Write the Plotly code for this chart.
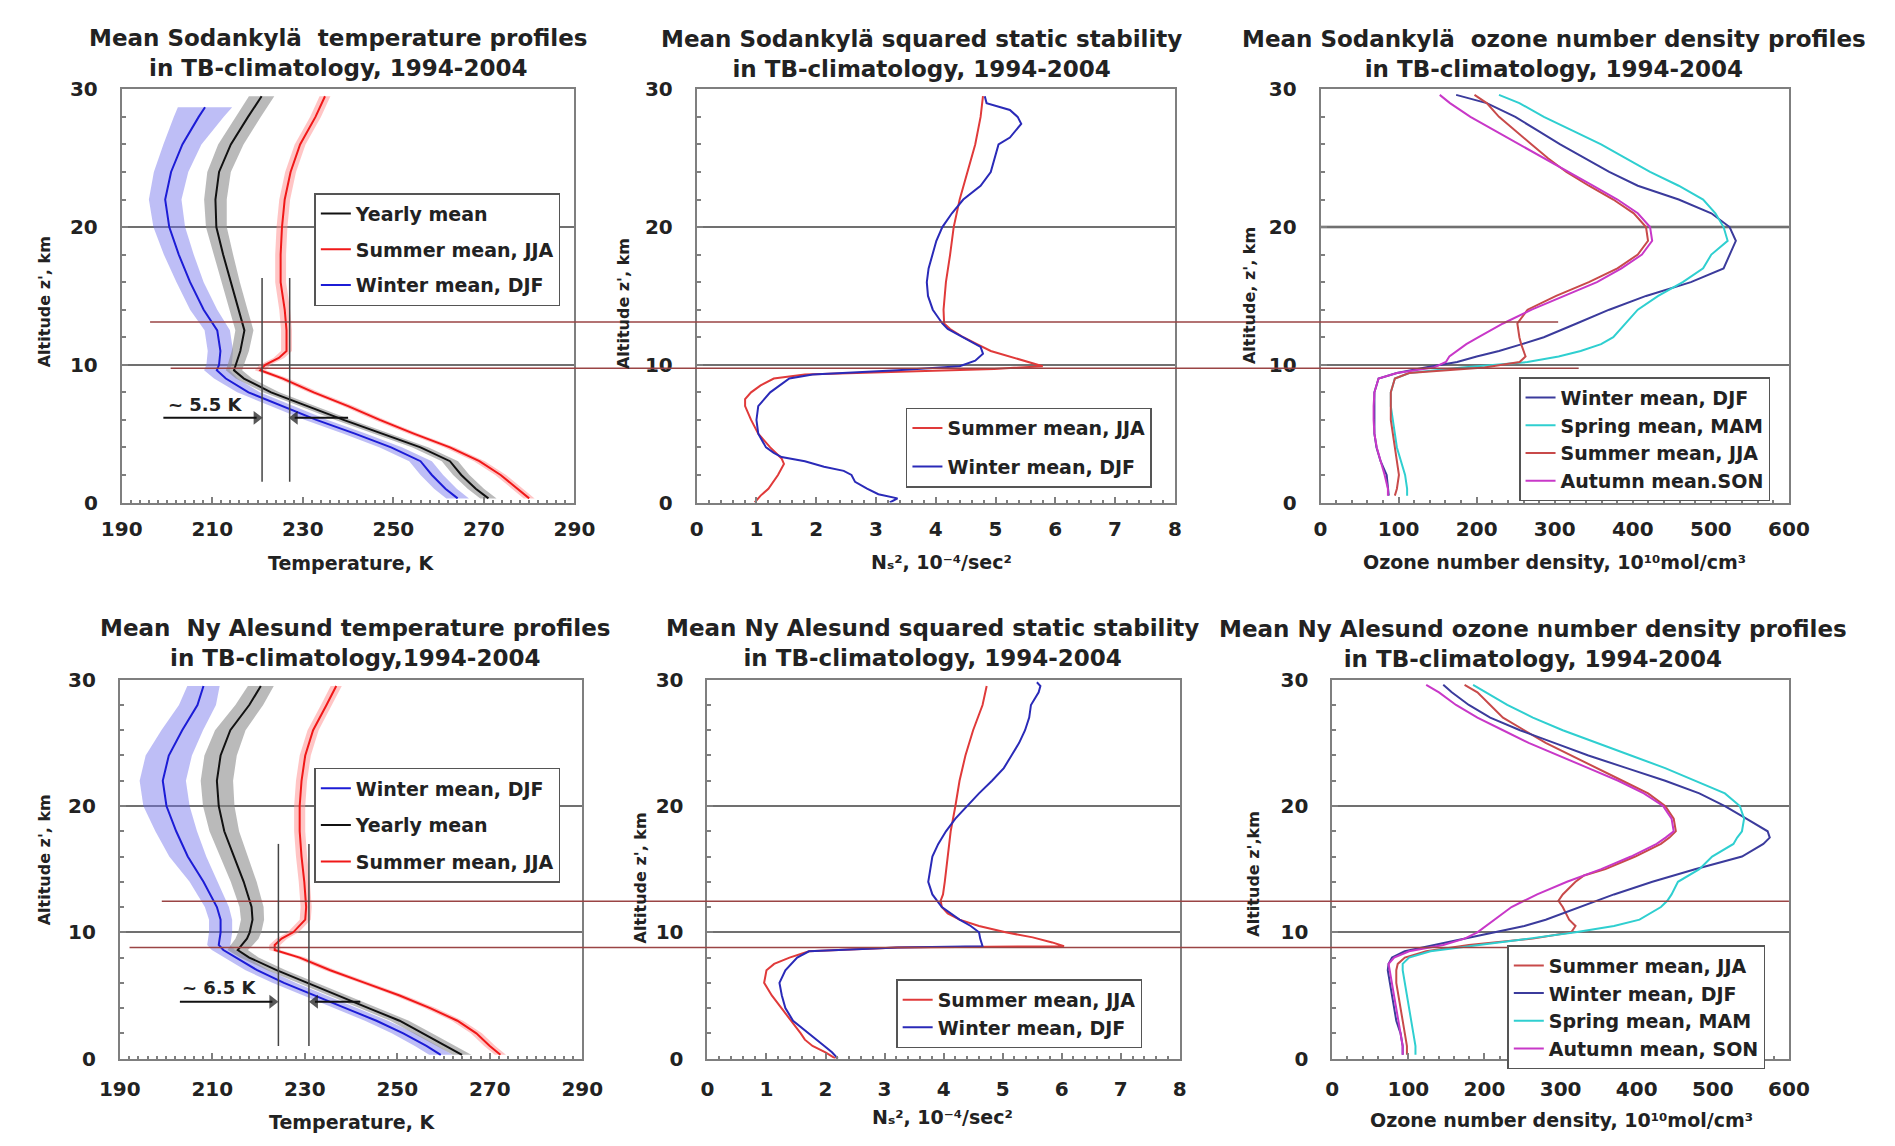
import plotly.graph_objects as go

FONT = "DejaVu Sans"
W, H = 1895, 1146

# ---------------- DATA ----------------
# Panel 1: Sodankyla temperature (K) vs altitude (km)
sod_t_alt = [0.3, 1, 2, 3, 4, 5, 6, 7, 8, 9, 9.6, 10, 10.5, 11, 12.5, 14, 16, 18, 20, 22, 24, 26, 28, 29.5]
sod_t_alt_winter = [0.3, 1, 2, 3, 4, 5, 6, 7, 8, 9, 9.6, 10, 10.5, 11, 12.5, 14, 16, 18, 20, 22, 24, 26, 28, 28.7]
sod_t_winter = [264.2, 261.5, 258.5, 256, 249.5, 241.5, 233, 225.6, 218, 213, 211, 211.5,
                211.6, 211.8, 211.1, 208.1, 205.1, 202.6, 200.5, 199.6, 200.9, 203.4, 207, 208.4]
sod_t_winter_sd = [2.5, 2.5, 2.5, 2.5, 2.5, 2.5, 2.5, 2.5, 2.5, 2.6, 2.8, 2.8,
                   2.8, 2.8, 2.8, 3.0, 3.0, 3.3, 3.5, 3.6, 3.8, 4.2, 5.5, 6.0]
sod_t_yearly = [271, 268.2, 265, 262.5, 256, 247.5, 239, 231, 223, 217, 214.8, 215.2,
                215.7, 216.2, 217.1, 215.8, 214.1, 212.4, 210.9, 210.7, 211.5, 214.1, 217.9, 220.9]
sod_t_yearly_sd = [1.8, 1.8, 1.8, 1.8, 1.8, 1.8, 1.8, 1.8, 1.8, 1.8, 1.8, 1.8,
                   1.8, 1.9, 2.0, 2.0, 2.0, 2.2, 2.3, 2.5, 2.6, 2.8, 2.8, 2.8]
sod_t_summer = [280, 277.5, 273.7, 269, 262.5, 254.5, 247, 240, 232.4, 225.6, 220.6, 221.7,
                224.7, 226.4, 226.4, 226, 225.1, 225.1, 225.4, 226, 227.3, 229.4, 232.8, 234.9]
sod_t_summer_sd = [1.2, 1.2, 1.2, 1.2, 1.2, 1.2, 1.2, 1.2, 1.2, 1.2, 1.2, 1.2,
                   1.2, 1.2, 1.2, 1.2, 1.2, 1.2, 1.2, 1.2, 1.2, 1.2, 1.2, 1.2]

# Panel 4: Ny Alesund temperature
ny_t_alt = [0.3, 1, 2, 3, 4, 5, 6, 7, 8, 8.6, 9, 9.5, 10, 11, 12, 14, 16, 18, 20, 22, 24, 26, 28, 29.5]
ny_t_winter = [259.4, 256.3, 251.3, 245.5, 238.8, 232.2, 225.5, 219.7, 215.1, 212.4, 211.4, 211.6,
               211.8, 211.8, 211, 208.1, 204.7, 202.2, 200.1, 199.3, 200.6, 203.5, 206.8, 208.1]
ny_t_winter_sd = [2.5, 2.5, 2.5, 2.5, 2.5, 2.5, 2.5, 2.5, 2.5, 2.5, 2.5, 2.5,
                  2.5, 2.5, 2.6, 3.0, 4.0, 4.5, 5.0, 5.0, 5.0, 4.5, 4.0, 3.5]
ny_t_yearly = [264, 260.5, 255.5, 250.5, 243.8, 237.2, 230.5, 223.9, 218, 215.5, 216.4, 217.5,
               218.1, 218.7, 218.5, 216.8, 214.7, 212.6, 211.4, 211, 211.8, 213.9, 218, 220.5]
ny_t_yearly_sd = [2.0, 2.0, 2.0, 2.0, 2.0, 2.0, 2.0, 2.0, 2.0, 2.2, 2.4, 2.5,
                  2.5, 2.5, 2.6, 2.8, 3.0, 3.2, 3.4, 3.5, 3.5, 3.3, 3.0, 2.8]
ny_t_summer = [272.3, 270, 267.1, 263, 257.1, 250.5, 243, 235.5, 228.9, 223.5, 223.5, 225,
               227.5, 230.1, 230.3, 229.9, 229.3, 228.9, 228.9, 229.3, 230.1, 231.8, 234.7, 236.8]
ny_t_summer_sd = [1.2, 1.2, 1.2, 1.2, 1.2, 1.2, 1.2, 1.2, 1.2, 1.2, 1.2, 1.2,
                  1.2, 1.2, 1.2, 1.2, 1.2, 1.2, 1.2, 1.2, 1.2, 1.2, 1.2, 1.2]

# Panel 2: Sodankyla squared static stability (1e-4 / s^2)
sod_n2_alt_summer = [0, 0.5, 1, 2, 2.8, 3.2, 4, 5, 6, 7, 7.5, 8, 8.5, 9, 9.3, 9.5, 9.7, 9.9,
                     10.2, 10.6, 11, 11.5, 12, 12.6, 13, 14, 16, 18, 20, 22, 24, 26, 28, 29.5]
sod_n2_summer = [0.97, 1.07, 1.2, 1.36, 1.46, 1.42, 1.23, 1.03, 0.91, 0.81, 0.81, 0.91, 1.07, 1.29, 1.81, 3.36, 4.98, 5.79,
                 5.56, 5.24, 4.92, 4.69, 4.46, 4.24, 4.14, 4.13, 4.17, 4.24, 4.3, 4.4, 4.53, 4.66, 4.75, 4.79]
sod_n2_alt_winter = [0, 0.3, 0.6, 1, 1.5, 2, 2.3, 2.6, 3, 3.3, 3.6, 4, 5, 6, 7, 8, 9, 9.3,
                     9.6, 9.9, 10.3, 10.8, 11.3, 12, 12.6, 13, 14, 15, 16, 17, 18, 19, 20, 21, 22, 23,
                     24, 25, 26, 26.5, 27.5, 28, 28.5, 29, 29.5]
sod_n2_winter = [3.23, 3.36, 3.04, 2.85, 2.65, 2.59, 2.46, 2.13, 1.81, 1.42, 1.29, 1.16, 1.03, 1.0, 1.03, 1.23, 1.55, 1.94,
                 3.36, 4.40, 4.66, 4.79, 4.75, 4.46, 4.2, 4.11, 3.95, 3.87, 3.85, 3.88, 3.95, 4.01, 4.11, 4.27, 4.46, 4.75,
                 4.92, 4.98, 5.05, 5.24, 5.43, 5.37, 5.24, 4.85, 4.82]

# Panel 5: Ny Alesund squared static stability
ny_n2_alt_summer = [0, 0.5, 1, 1.5, 2, 3, 4, 5, 6, 7, 7.5, 8, 8.5, 8.8, 8.9, 9.2, 9.6, 10,
                    10.5, 11, 11.5, 12, 12.5, 13, 14, 16, 18, 20, 22, 24, 26, 28, 29.5]
ny_n2_summer = [2.17, 2.0, 1.78, 1.65, 1.58, 1.42, 1.26, 1.09, 0.96, 1.0, 1.13, 1.39, 1.72, 3.22, 6.04, 5.84, 5.51, 5.05,
                4.6, 4.27, 4.07, 3.97, 3.95, 3.99, 4.02, 4.07, 4.12, 4.2, 4.27, 4.37, 4.5, 4.66, 4.73]
ny_n2_alt_winter = [0, 0.5, 1, 2, 3, 4, 5, 6, 7, 8, 8.5, 8.8, 8.9, 9.5, 10, 10.5, 11, 12,
                    13, 14, 15, 16, 17, 18, 19, 20, 21, 22, 23, 24, 25, 26, 27, 28, 29, 29.5, 29.8]
ny_n2_winter = [2.21, 2.11, 1.98, 1.72, 1.45, 1.32, 1.26, 1.22, 1.32, 1.52, 1.72, 3.22, 4.66, 4.62, 4.6, 4.46, 4.27, 3.97,
                3.81, 3.74, 3.78, 3.81, 3.91, 4.04, 4.2, 4.4, 4.6, 4.82, 5.02, 5.15, 5.28, 5.38, 5.45, 5.48, 5.61, 5.64, 5.58]

# Panel 3: Sodankyla ozone number density (1e10 mol/cm^3)
sod_o3_alt = [0.5, 1, 2, 3, 4, 5, 6, 7, 8, 9, 9.4, 9.8, 10.2, 10.6, 11, 11.5, 12, 13,
              14, 15, 16, 17, 18, 19, 20, 21, 22, 23, 24, 25, 26, 27, 28, 29, 29.6]
sod_o3_winter = [87.4, 86.3, 84.7, 76.9, 71.7, 69, 69, 69, 69, 74.3, 97.8, 134, 175, 200, 228.6, 258, 286, 328,
                 369.8, 417, 474.4, 516.3, 524, 532, 524, 500.6, 458.8, 406.4, 369.8, 338.4, 307, 278.3, 249.5, 212.9, 173.7]
sod_o3_spring = [110.9, 110.9, 108.3, 103, 97.8, 95.2, 92.6, 90, 90, 95.2, 113.5, 181.5, 265, 305, 333.2, 359.4, 375, 390.7,
                 406.4, 432.6, 464, 490.1, 500.6, 521.5, 516.3, 505.8, 490.1, 458.8, 422.1, 390.7, 359.4, 322.8, 286.1, 254.7, 228.6]
sod_o3_summer = [95.2, 97.8, 100.4, 97.8, 95.2, 92.6, 90, 90, 90, 95.2, 113.5, 210, 255, 262.6, 260, 257, 254.7, 252.1,
                 265.2, 301.8, 343.7, 380.3, 406.4, 419.5, 416.9, 401.2, 375, 343.7, 314.9, 291.4, 270.4, 249.5, 228.6, 212.9, 197.2]
sod_o3_autumn = [86.3, 86.3, 82.1, 76.9, 72, 69, 68, 68, 69, 74.3, 97.8, 144.9, 160.6, 165, 175, 186.7, 202.4, 233.8,
                 270.4, 312.3, 354.1, 385.5, 411.7, 424.8, 422.1, 406.4, 380.3, 348.9, 317.5, 286.1, 254.7, 223.4, 192, 165.8, 152.7]

# Panel 6: Ny Alesund ozone number density
ny_o3_alt = [0.3, 1, 2, 3, 4, 5, 6, 7, 7.5, 8, 8.5, 9, 9.5, 10, 10.5, 11, 12, 12.5,
             13, 14, 14.5, 15, 16, 17, 17.5, 18, 19, 20, 21, 22, 23, 24, 25, 26, 27, 28, 29, 29.6]
ny_o3_winter = [92.5, 92.5, 89.7, 84.1, 81.3, 78.5, 75.7, 72.9, 74, 78.5, 95.3, 134.6, 173.8, 213.1, 252.3, 280.4, 325.2, 347,
                370.1, 420.6, 448, 476.6, 538.3, 566.4, 574.8, 572, 544, 515.9, 482.3, 437.4, 386.9, 336.5, 291.6, 246.7, 207.5, 179.4, 157, 145.8]
ny_o3_spring = [109.3, 109.3, 106.5, 103.7, 100.9, 98.1, 95.3, 92.5, 92.5, 100.9, 129, 196.3, 258, 319.6, 370.1, 403.7, 431.8, 440.2,
                445.8, 454.2, 468, 482.3, 499.1, 527.1, 532, 538.3, 541.1, 535.5, 515.9, 476.6, 437.4, 392.5, 347.7, 302.8, 263.6, 229.9, 201.9, 185]
ny_o3_summer = [98.1, 98.1, 95.3, 92.5, 89.7, 87, 84.1, 84.1, 86, 95.3, 123.4, 179.4, 263.6, 314, 319.6, 311.2, 302.8, 297.2,
                302.8, 319.6, 330.8, 358.9, 398.1, 431.8, 443, 451.4, 448.6, 437.4, 415, 381.3, 347.7, 314, 280.4, 252.3, 224.3, 207.5, 190.7, 173.8]
ny_o3_autumn = [92.5, 92.5, 89.7, 86.9, 84, 81.3, 78.5, 75.7, 74, 81.3, 100.9, 145.8, 173.8, 190.7, 201.9, 213.1, 235.5, 252,
                269.2, 308.4, 330, 353.3, 392.5, 426.2, 438, 448.6, 445.8, 434.6, 409.4, 375.7, 336.5, 297.2, 258, 224.3, 190.7, 162.6, 140.2, 123.4]

# tropopause marker altitudes (km) and temperature-difference guides (K)
top_marker_alts = [13.1, 9.75]
bottom_marker_alts = [12.45, 8.8]
sod_guide_temps = [221.0, 227.1]
ny_guide_temps = [224.3, 230.9]
# arrows: (tail T, head T) at a given altitude
sod_arrows = [(199.2, 219.8), (240.0, 228.2)]
sod_arrow_alt = 6.15
ny_arrows = [(203.0, 223.0), (242.0, 232.2)]
ny_arrow_alt = 4.5

# ---------------- STYLE / LAYOUT ----------------
C_WIN_T, C_WIN_BAND = "#1c1cd6", "rgba(110,110,235,0.45)"
C_YR_T, C_YR_BAND = "#111111", "rgba(140,140,140,0.6)"
C_SUM_T, C_SUM_BAND = "#f01818", "rgba(255,140,140,0.5)"
C_N2_SUM, C_N2_WIN = "#e03a3a", "#2a2ab8"
C_O3_WIN, C_O3_SPR, C_O3_SUM, C_O3_AUT = "#3b3b9c", "#2fcfd0", "#c84a4a", "#c838c8"
GRID = "#707070"
FRAME = "#7f7f7f"

# panel frames in pixels: left, right, top, bottom
PANELS = {
    1: (103, 566, 79, 501),
    2: (691, 1180, 79, 501),
    3: (1329, 1808, 79, 501),
    4: (101, 574, 682, 1069),
    5: (702, 1185, 682, 1069),
    6: (1341, 1808, 682, 1069),
}
XRANGES = {1: (190, 290, 20, 2), 2: (0, 8, 1, 0.2), 3: (0, 600, 100, 20),
           4: (190, 290, 20, 2), 5: (0, 8, 1, 0.2), 6: (0, 600, 100, 20)}


def px(v):
    return v / W


def py(v):
    return 1 - v / H


fig = go.Figure()


def ax_names(p):
    return ("x" if p == 1 else f"x{p}"), ("y" if p == 1 else f"y{p}")


def add_line(p, xs, zs, color, name, legend, show=True, width=2):
    xa, ya = ax_names(p)
    fig.add_trace(go.Scatter(x=xs, y=zs, mode="lines", line=dict(color=color, width=width),
                             name=name, legend=legend, legendgroup=f"{legend}-{name}",
                             showlegend=show, xaxis=xa, yaxis=ya, hoverinfo="skip"))


def add_band(p, xs, sd, zs, color):
    xa, ya = ax_names(p)
    lo = [m - s for m, s in zip(xs, sd)]
    hi = [m + s for m, s in zip(xs, sd)]
    fig.add_trace(go.Scatter(x=lo + hi[::-1], y=list(zs) + list(zs)[::-1], mode="lines",
                             fill="toself", fillcolor=color, line=dict(width=0),
                             showlegend=False, xaxis=xa, yaxis=ya, hoverinfo="skip"))


def add_arrow(p, tail, head, z):
    xa, ya = ax_names(p)
    sym = "triangle-right" if head > tail else "triangle-left"
    fig.add_trace(go.Scatter(x=[tail, head], y=[z, z], mode="lines+markers",
                             line=dict(color="#111111", width=2),
                             marker=dict(symbol=["line-ns", sym], size=[1, 12], color="#111111",
                                         line=dict(width=0)),
                             showlegend=False, xaxis=xa, yaxis=ya, hoverinfo="skip"))


# Panel 1 bands + lines
add_band(1, sod_t_winter, sod_t_winter_sd, sod_t_alt_winter, C_WIN_BAND)
add_band(1, sod_t_yearly, sod_t_yearly_sd, sod_t_alt, C_YR_BAND)
add_band(1, sod_t_summer, sod_t_summer_sd, sod_t_alt, C_SUM_BAND)
add_line(1, sod_t_yearly, sod_t_alt, C_YR_T, "Yearly mean", "legend")
add_line(1, sod_t_summer, sod_t_alt, C_SUM_T, "Summer mean, JJA", "legend")
add_line(1, sod_t_winter, sod_t_alt_winter, C_WIN_T, "Winter mean, DJF", "legend")
for tail, head in sod_arrows:
    add_arrow(1, tail, head, sod_arrow_alt)

# Panel 2
add_line(2, sod_n2_summer, sod_n2_alt_summer, C_N2_SUM, "Summer mean, JJA", "legend2")
add_line(2, sod_n2_winter, sod_n2_alt_winter, C_N2_WIN, "Winter mean, DJF", "legend2")

# Panel 3
add_line(3, sod_o3_winter, sod_o3_alt, C_O3_WIN, "Winter mean, DJF", "legend3")
add_line(3, sod_o3_spring, sod_o3_alt, C_O3_SPR, "Spring mean, MAM", "legend3")
add_line(3, sod_o3_summer, sod_o3_alt, C_O3_SUM, "Summer mean, JJA", "legend3")
add_line(3, sod_o3_autumn, sod_o3_alt, C_O3_AUT, "Autumn mean.SON", "legend3")

# Panel 4
add_band(4, ny_t_winter, ny_t_winter_sd, ny_t_alt, C_WIN_BAND)
add_band(4, ny_t_yearly, ny_t_yearly_sd, ny_t_alt, C_YR_BAND)
add_band(4, ny_t_summer, ny_t_summer_sd, ny_t_alt, C_SUM_BAND)
add_line(4, ny_t_winter, ny_t_alt, C_WIN_T, "Winter mean, DJF", "legend4")
add_line(4, ny_t_yearly, ny_t_alt, C_YR_T, "Yearly mean", "legend4")
add_line(4, ny_t_summer, ny_t_alt, C_SUM_T, "Summer mean, JJA", "legend4")
for tail, head in ny_arrows:
    add_arrow(4, tail, head, ny_arrow_alt)

# Panel 5
add_line(5, ny_n2_summer, ny_n2_alt_summer, C_N2_SUM, "Summer mean, JJA", "legend5")
add_line(5, ny_n2_winter, ny_n2_alt_winter, C_N2_WIN, "Winter mean, DJF", "legend5")

# Panel 6
add_line(6, ny_o3_summer, ny_o3_alt, C_O3_SUM, "Summer mean, JJA", "legend6")
add_line(6, ny_o3_winter, ny_o3_alt, C_O3_WIN, "Winter mean, DJF", "legend6")
add_line(6, ny_o3_spring, ny_o3_alt, C_O3_SPR, "Spring mean, MAM", "legend6")
add_line(6, ny_o3_autumn, ny_o3_alt, C_O3_AUT, "Autumn mean, SON", "legend6")

tickfont = dict(family=FONT, size=20, color="#222222", weight="bold")
layout = dict(width=W, height=H, margin=dict(l=0, r=0, t=0, b=0),
              paper_bgcolor="white", plot_bgcolor="white",
              font=dict(family=FONT, color="#222222"), showlegend=True)

for p, (l, r, t, b) in PANELS.items():
    xk = "xaxis" if p == 1 else f"xaxis{p}"
    yk = "yaxis" if p == 1 else f"yaxis{p}"
    x0, x1, dt, mdt = XRANGES[p]
    top_row = p <= 3
    layout[xk] = dict(domain=[px(l), px(r)], range=[x0, x1], dtick=dt, tick0=x0,
                      anchor="y" if p == 1 else f"y{p}",
                      showline=True, linecolor=FRAME, linewidth=2, mirror=True,
                      ticks="inside", ticklen=6, tickcolor=FRAME, tickwidth=1.5,
                      minor=dict(dtick=mdt, ticks="inside", ticklen=3, tickcolor=FRAME, showgrid=False),
                      showgrid=False, zeroline=False, tickfont=tickfont,
                      ticklabelstandoff=7 if top_row else 11, fixedrange=True)
    layout[yk] = dict(domain=[py(b), py(t)], range=[0, 30], dtick=10, tick0=0,
                      anchor="x" if p == 1 else f"x{p}",
                      showline=True, linecolor=FRAME, linewidth=2, mirror=True,
                      ticks="inside", ticklen=6, tickcolor=FRAME, tickwidth=1.5,
                      minor=dict(dtick=2, ticks="inside", ticklen=4, tickcolor=FRAME, showgrid=False),
                      showgrid=True, gridcolor=GRID, gridwidth=1.5, zeroline=False,
                      tickfont=tickfont, ticksuffix="\u2007\u2009", fixedrange=True)

# legends (left, top px, item gap)
LEGENDS = {"legend": (300, 185, 8), "legend2": (905, 404, 11), "legend3": (1532, 373, 0),
           "legend4": (300, 772, 9), "legend5": (895, 988, 0), "legend6": (1520, 953, 0)}
for key, (l, t, gap) in LEGENDS.items():
    layout[key] = dict(x=px(l), y=py(t), xanchor="left", yanchor="top", bgcolor="white",
                       bordercolor="#555555", borderwidth=1.5, itemwidth=30,
                       font=dict(family=FONT, size=19, color="#222222", weight="bold"),
                       traceorder="grouped", tracegroupgap=gap)

fig.update_layout(**layout)

# cross-panel tropopause markers
TOP_SPANS = [(132, 1572), (153, 1593)]
BOT_SPANS = [(144, 1808), (111, 1551)]
shapes = []
for z, (a, b) in zip(top_marker_alts, TOP_SPANS):
    shapes.append(dict(type="line", xref="paper", yref="y", x0=px(a), x1=px(b), y0=z, y1=z,
                       line=dict(color="#9a4444", width=1.5), layer="above"))
for z, (a, b) in zip(bottom_marker_alts, BOT_SPANS):
    shapes.append(dict(type="line", xref="paper", yref="y4", x0=px(a), x1=px(b), y0=z, y1=z,
                       line=dict(color="#9a4444", width=1.5), layer="above"))
for tv in sod_guide_temps:
    shapes.append(dict(type="line", xref="x", yref="y", x0=tv, x1=tv, y0=1.5, y1=16.3,
                       line=dict(color="#444444", width=1.5)))
for tv in ny_guide_temps:
    shapes.append(dict(type="line", xref="x4", yref="y4", x0=tv, x1=tv, y0=1.0, y1=17.0,
                       line=dict(color="#444444", width=1.5)))
shapes.append(dict(type="line", xref="x3", yref="y3", x0=0, x1=600, y0=20, y1=20,
                   line=dict(color="#a8a8a8", width=3), layer="below"))
fig.update_layout(shapes=shapes)

ann = []
bold = dict(family=FONT, color="#222222", weight="bold")


def text(x, y, s, size, angle=0):
    ann.append(dict(x=px(x), y=py(y), xref="paper", yref="paper", text=s, showarrow=False,
                    xanchor="center", yanchor="middle", textangle=angle,
                    font=dict(size=size, **bold)))


# titles
text(324, 42, "Mean Sodankylä  temperature profiles<br>in TB-climatology, 1994-2004", 23)
text(921, 43, "Mean Sodankylä squared static stability<br>in TB-climatology, 1994-2004", 23)
text(1568, 43, "Mean Sodankylä  ozone number density profiles<br>in TB-climatology, 1994-2004", 23)
text(342, 645, "Mean  Ny Alesund temperature profiles<br>in TB-climatology,1994-2004", 23)
text(932, 645, "Mean Ny Alesund squared static stability<br>in TB-climatology, 1994-2004", 23)
text(1546, 646, "Mean Ny Alesund ozone number density profiles<br>in TB-climatology, 1994-2004", 23)
# x-axis titles (unicode sub/superscripts)
N2 = "N\u209b\u00b2, 10\u207b\u2074/sec\u00b2"
O3 = "Ozone number density, 10\u00b9\u2070mol/cm\u00b3"
text(337, 563, "Temperature, K", 19)
text(941, 562, N2, 19)
text(1568, 562, O3, 19)
text(338, 1134, "Temperature, K", 19)
text(942, 1129, N2, 19)
text(1575, 1132, O3, 19)
# y-axis titles
text(24, 296, "Altitude z', km", 16, -90)
text(616, 298, "Altitude z', km", 16, -90)
text(1257, 290, "Altitude, z', km", 16, -90)
text(24, 866, "Altitude z', km", 16, -90)
text(634, 884, "Altitude z', km", 16, -90)
text(1260, 880, "Altitude z',km", 16, -90)

ann.append(dict(x=208.5, y=7.1, xref="x", yref="y", text="~ 5.5 K", showarrow=False,
                font=dict(size=18, **bold)))
ann.append(dict(x=211.5, y=5.6, xref="x4", yref="y4", text="~ 6.5 K", showarrow=False,
                font=dict(size=18, **bold)))
fig.update_layout(annotations=ann)

fig.write_html("out.html", config={"displayModeBar": False},
               post_script="document.body.style.margin='0';")
